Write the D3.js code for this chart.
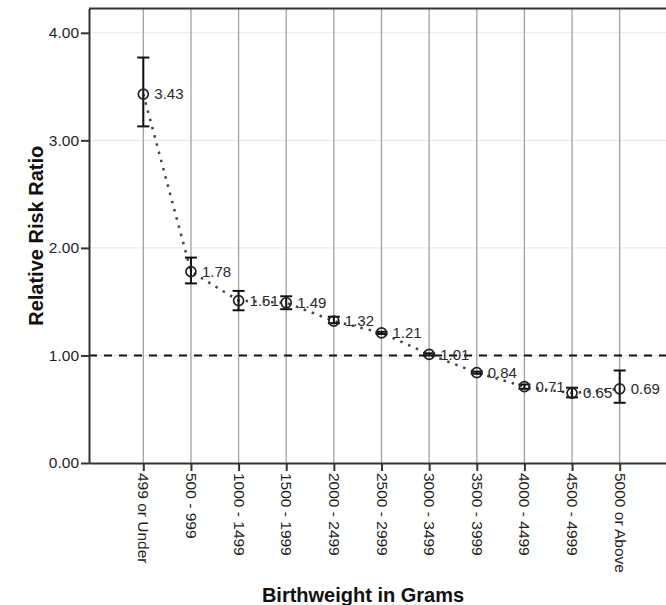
<!DOCTYPE html>
<html>
<head>
<meta charset="utf-8">
<script src="https://cdn.jsdelivr.net/npm/d3@7"></script>
<style>
  html, body { margin: 0; padding: 0; background: #fff; }
  svg { display: block; font-family: "Liberation Sans", Arial, sans-serif; }
</style>
</head>
<body>
<svg id="chart" width="666" height="605"></svg>
<script>
// Birthweight groups and relative risk ratios with 95% confidence limits
const categories = ["499 or Under", "500 - 999", "1000 - 1499", "1500 - 1999", "2000 - 2499",
  "2500 - 2999", "3000 - 3499", "3500 - 3999", "4000 - 4499", "4500 - 4999", "5000 or Above"];
const ratios = [3.43, 1.78, 1.51, 1.49, 1.32, 1.21, 1.01, 0.84, 0.71, 0.65, 0.69];
const lowerCI = [3.13, 1.67, 1.42, 1.43, 1.30, 1.20, 1.00, 0.83, 0.69, 0.61, 0.56];
const upperCI = [3.77, 1.91, 1.60, 1.55, 1.36, 1.22, 1.02, 0.85, 0.73, 0.70, 0.86];
const yTicks = [0, 1, 2, 3, 4];
const referenceRatio = 1;

const rows = categories.map((c, i) => ({ cat: c, v: ratios[i], lo: lowerCI[i], hi: upperCI[i] }));

const plot = { left: 89, right: 674, top: 8.5, bottom: 463 };

const svg = d3.select("#chart");

const x = d3.scalePoint().domain(categories).range([plot.left, plot.right]).padding(1.14);
const y = d3.scaleLinear().domain([0, 4.226]).range([plot.bottom, plot.top]);

// faint horizontal grid
svg.append("g").selectAll("line").data(yTicks.filter(d => d > 0)).join("line")
  .attr("x1", plot.left).attr("x2", plot.right)
  .attr("y1", d => y(d)).attr("y2", d => y(d))
  .attr("stroke", "#e6e6e6").attr("stroke-width", 1);

// vertical grid at each category
svg.append("g").selectAll("line").data(categories).join("line")
  .attr("x1", d => x(d)).attr("x2", d => x(d))
  .attr("y1", plot.top).attr("y2", plot.bottom)
  .attr("stroke", "#a0a0a0").attr("stroke-width", 1.3);

// top frame
svg.append("line")
  .attr("x1", plot.left).attr("x2", plot.right)
  .attr("y1", plot.top).attr("y2", plot.top)
  .attr("stroke", "#333").attr("stroke-width", 2);

// reference line at ratio 1
svg.append("line")
  .attr("x1", plot.left).attr("x2", plot.right)
  .attr("y1", y(referenceRatio)).attr("y2", y(referenceRatio))
  .attr("stroke", "#111").attr("stroke-width", 2)
  .attr("stroke-dasharray", "8,7");

// y axis
const yAxis = svg.append("g")
  .attr("transform", `translate(${plot.left},0)`)
  .call(d3.axisLeft(y).tickValues(yTicks).tickFormat(d3.format(".2f")).tickSize(8).tickPadding(2).tickSizeOuter(0));
yAxis.select(".domain").attr("stroke", "#333").attr("stroke-width", 2);
yAxis.selectAll(".tick line").attr("stroke", "#333").attr("stroke-width", 2);
yAxis.selectAll(".tick text").attr("fill", "#1e1e1e").style("font-size", "15.5px");

// x axis
const xAxis = svg.append("g")
  .attr("transform", `translate(0,${plot.bottom})`)
  .call(d3.axisBottom(x).tickSize(8).tickSizeOuter(0));
xAxis.select(".domain").attr("stroke", "#333").attr("stroke-width", 2);
xAxis.selectAll(".tick line").attr("stroke", "#333").attr("stroke-width", 2);
xAxis.selectAll(".tick text")
  .attr("fill", "#1e1e1e").style("font-size", "15.5px")
  .attr("text-anchor", "start")
  .attr("dy", "0.35em")
  .attr("x", 0).attr("y", 0)
  .attr("transform", "translate(0,10) rotate(90)");

// dotted connecting line
svg.append("path")
  .datum(rows)
  .attr("fill", "none")
  .attr("stroke", "#444")
  .attr("stroke-width", 2.5)
  .attr("stroke-dasharray", "2.5,6")
  .attr("d", d3.line().x(d => x(d.cat)).y(d => y(d.v)));

// confidence interval bars
const bars = svg.append("g").selectAll("g").data(rows).join("g");
bars.append("line")
  .attr("x1", d => x(d.cat)).attr("x2", d => x(d.cat))
  .attr("y1", d => y(d.lo)).attr("y2", d => y(d.hi))
  .attr("stroke", "#111").attr("stroke-width", 2);
["lo", "hi"].forEach(k => {
  bars.append("line")
    .attr("x1", d => x(d.cat) - 6).attr("x2", d => x(d.cat) + 6)
    .attr("y1", d => y(d[k])).attr("y2", d => y(d[k]))
    .attr("stroke", "#111").attr("stroke-width", 2);
});

// point markers
svg.append("g").selectAll("circle").data(rows).join("circle")
  .attr("cx", d => x(d.cat)).attr("cy", d => y(d.v)).attr("r", 5)
  .attr("fill", "none").attr("stroke", "#222").attr("stroke-width", 1.7);

// value labels
svg.append("g").selectAll("text").data(rows).join("text")
  .attr("x", d => x(d.cat) + 11).attr("y", d => y(d.v))
  .attr("dy", "0.35em")
  .attr("fill", "#2a2a2a").style("font-size", "15px")
  .text(d => d3.format(".2f")(d.v));

// axis titles
svg.append("text")
  .attr("x", (plot.left + 637) / 2).attr("y", 602)
  .attr("text-anchor", "middle")
  .style("font-size", "20px").style("font-weight", "bold").attr("fill", "#111")
  .text("Birthweight in Grams");

svg.append("text")
  .attr("transform", `translate(43,${(plot.top + plot.bottom) / 2}) rotate(-90)`)
  .attr("text-anchor", "middle")
  .style("font-size", "20px").style("font-weight", "bold").attr("fill", "#111")
  .text("Relative Risk Ratio");
</script>
</body>
</html>
